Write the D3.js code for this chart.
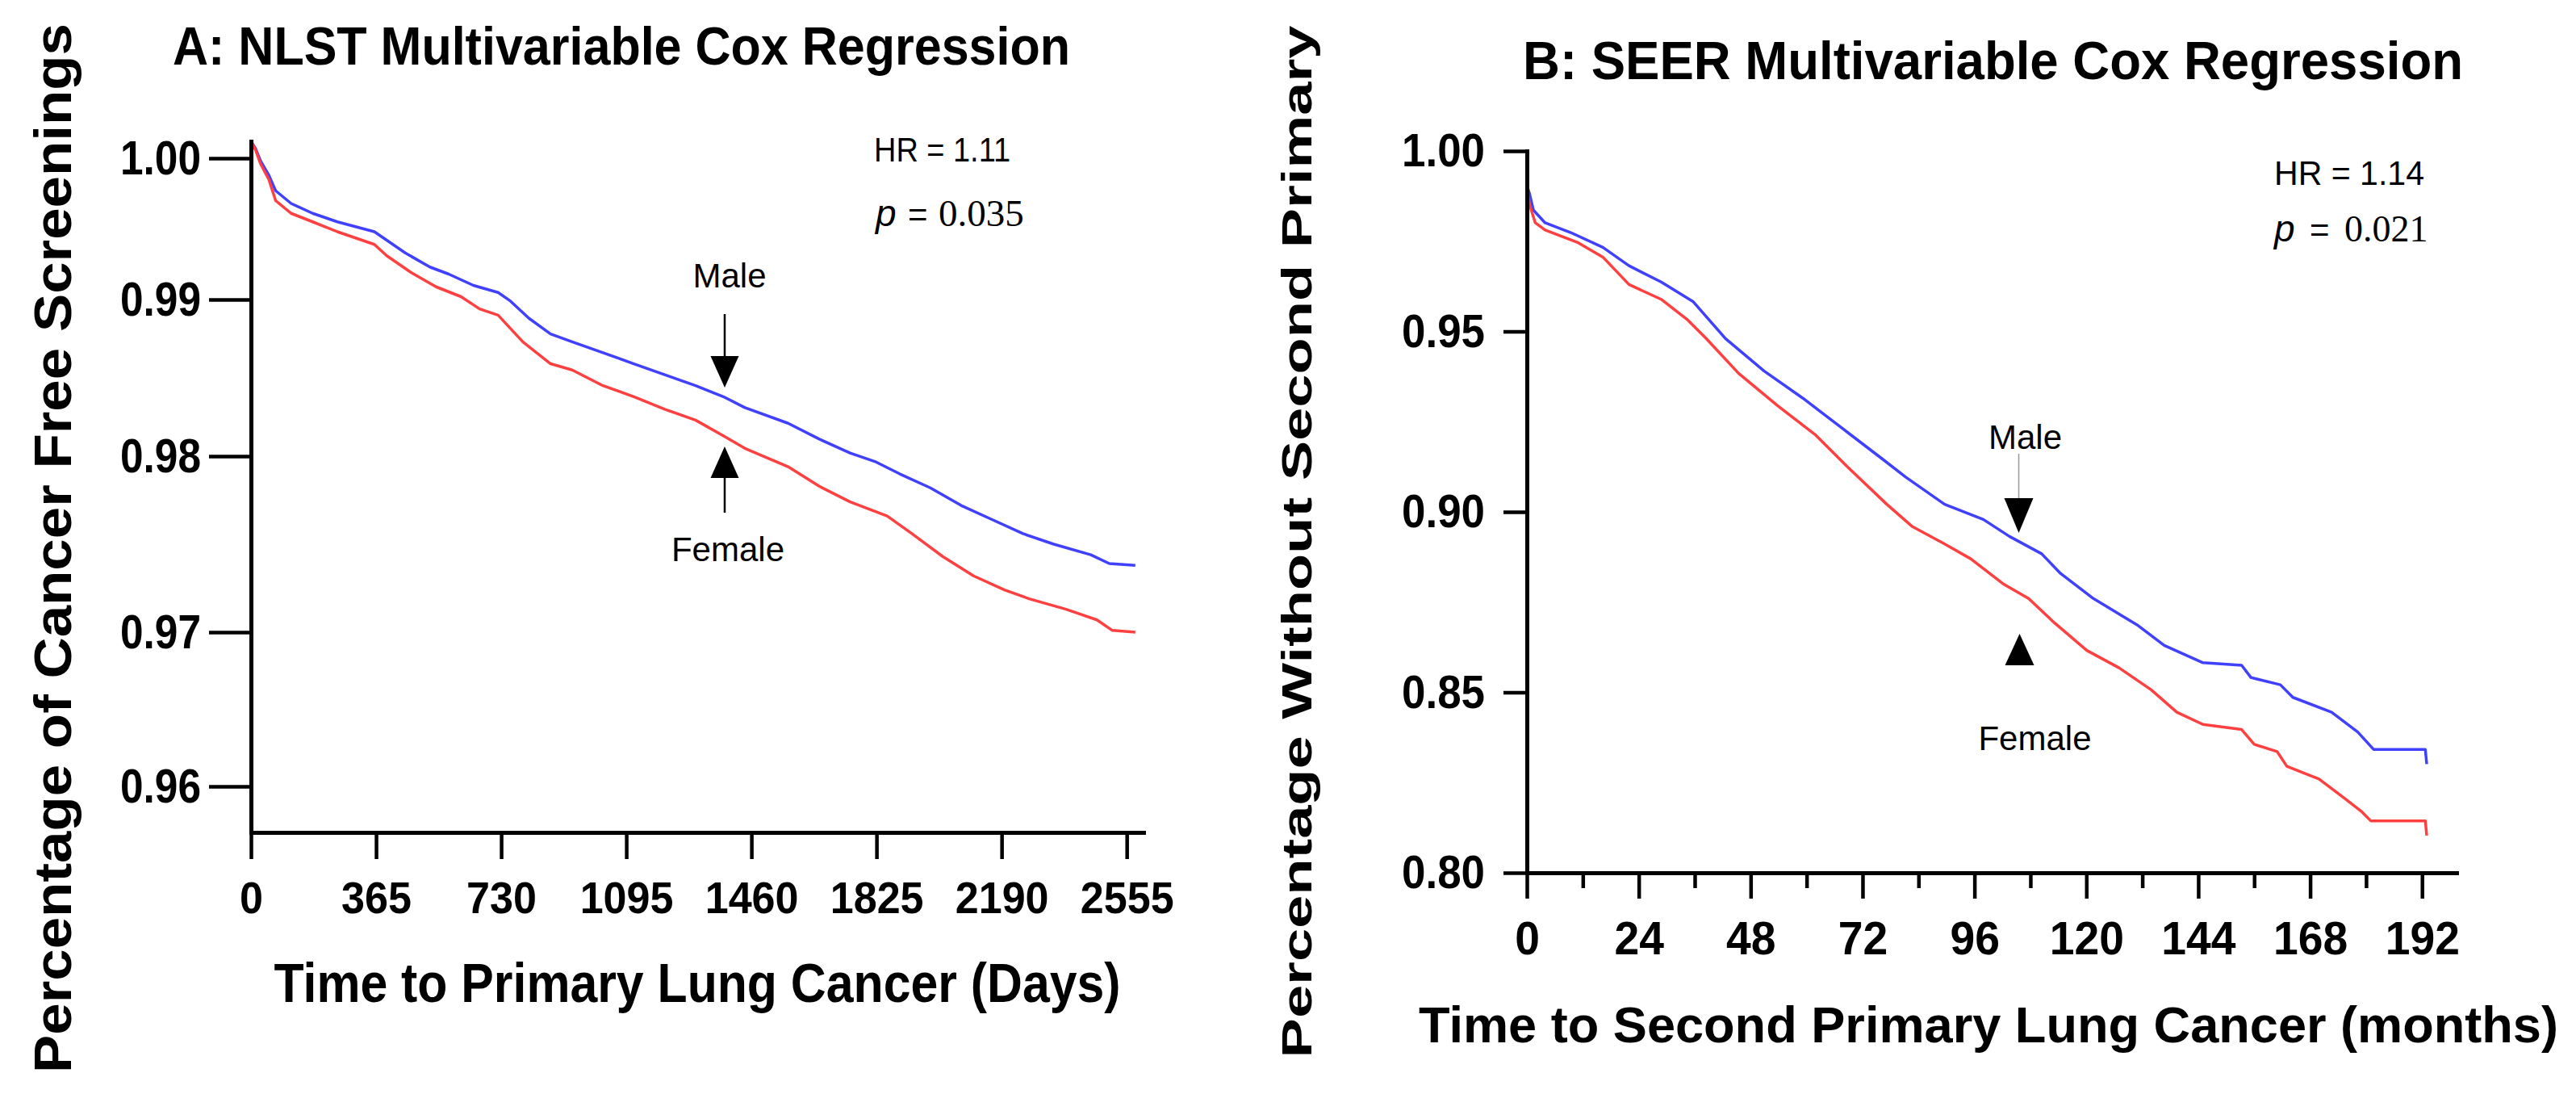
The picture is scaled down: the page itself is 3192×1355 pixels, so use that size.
<!DOCTYPE html>
<html>
<head>
<meta charset="utf-8">
<script src="https://cdn.jsdelivr.net/npm/d3@7"></script>
<style>
  body { margin: 0; background: #fff; }
  svg { display: block; }
  text { font-family: "Liberation Sans", Arial, sans-serif; fill: #000; }
</style>
</head>
<body>
<svg id="fig" width="3192" height="1355"></svg>
<script>
// ---- data ----
var nlstDayTicks = [0, 365, 730, 1095, 1460, 1825, 2190, 2555];
var nlstSurvTicks = [0.96, 0.97, 0.98, 0.99, 1.00];

// [days, survival]
var nlstMale = [
  [0,1.0012],[13,1.0007],[28,0.9998],[52,0.9988],[72,0.9977],[117,0.9968],[180,0.9961],
  [252,0.9955],[360,0.9948],[378,0.9945],[450,0.9933],[522,0.9923],[577,0.9918],
  [649,0.9910],[721,0.9905],[757,0.9899],[811,0.9888],[874,0.9878],[937,0.9873],
  [1027,0.9866],[1117,0.9859],[1207,0.9852],[1297,0.9845],[1378,0.9838],[1441,0.9831],
  [1567,0.9821],[1657,0.9811],[1748,0.9802],[1820,0.9797],[1892,0.9790],[1982,0.9782],
  [2072,0.9772],[2162,0.9764],[2252,0.9756],[2342,0.9750],[2450,0.9744],[2504,0.9739],
  [2580,0.9738]
];
var nlstFemale = [
  [0,1.0012],[13,1.0006],[28,0.9996],[52,0.9985],[72,0.9970],[117,0.9961],[180,0.9955],
  [252,0.9948],[360,0.9939],[396,0.9931],[468,0.9919],[540,0.9909],[613,0.9902],
  [667,0.9894],[721,0.9890],[793,0.9873],[874,0.9859],[937,0.9855],[1027,0.9845],
  [1117,0.9838],[1207,0.9830],[1297,0.9823],[1378,0.9813],[1441,0.9805],[1567,0.9794],
  [1657,0.9783],[1748,0.9774],[1856,0.9766],[1928,0.9756],[2018,0.9743],[2108,0.9732],
  [2198,0.9724],[2270,0.9719],[2378,0.9713],[2468,0.9707],[2513,0.9701],[2580,0.9700]
];

var seerMonthTicks = [0, 24, 48, 72, 96, 120, 144, 168, 192];
var seerMinorTicks = [12, 36, 60, 84, 108, 132, 156, 180];
var seerSurvTicks = [0.80, 0.85, 0.90, 0.95, 1.00];

// [months, survival]
var seerMale = [
  [0,0.9905],[0.6,0.9880],[1.4,0.9836],[3.9,0.9801],[9.4,0.9774],[16.3,0.9733],
  [21.9,0.9682],[28.8,0.9637],[35.7,0.9582],[42.6,0.9480],[50.9,0.9390],[59.2,0.9315],
  [68.2,0.9226],[75.8,0.9151],[81.3,0.9096],[89.6,0.9021],[97.9,0.8979],[103.5,0.8932],
  [110.4,0.8884],[114.5,0.8829],[121.5,0.8760],[131.1,0.8685],[136.7,0.8630],
  [145.0,0.8582],[153.3,0.8575],[155.3,0.8541],[161.6,0.8521],[164.3,0.8486],
  [172.6,0.8445],[178.2,0.8390],[181.6,0.8342],[192.7,0.8342],[193.0,0.8301]
];
var seerFemale = [
  [0,0.9895],[0.6,0.9850],[1.8,0.9801],[3.9,0.9781],[10.8,0.9747],[16.3,0.9706],
  [21.9,0.9630],[28.8,0.9589],[34.3,0.9534],[38.5,0.9480],[45.4,0.9384],[53.7,0.9295],
  [62.0,0.9212],[68.9,0.9123],[77.2,0.9021],[82.7,0.8959],[89.6,0.8911],[95.2,0.8870],
  [102.1,0.8801],[107.6,0.8760],[113.2,0.8692],[120.1,0.8616],[127.0,0.8568],
  [133.9,0.8507],[139.4,0.8445],[145.0,0.8411],[153.3,0.8397],[156.0,0.8356],
  [160.9,0.8336],[163.0,0.8295],[169.9,0.8260],[175.4,0.8206],[178.9,0.8171],
  [181.0,0.8144],[192.7,0.8144],[193.0,0.8103]
];

var maleColor = "#4040ff";
var femaleColor = "#ff4040";

var svg = d3.select("#fig");

function styleAxis(g, fontSize) {
  g.select(".domain").attr("stroke", "#000").attr("stroke-width", 5).attr("stroke-linecap", "square");
  g.selectAll(".tick line").attr("stroke", "#000").attr("stroke-width", 4.5);
  g.selectAll(".tick text")
    .style("font-family", '"Liberation Sans", Arial, sans-serif')
    .style("font-size", fontSize + "px")
    .style("font-weight", "bold")
    .attr("fill", "#000");
}

function drawCurve(g, data, x, y, color) {
  var line = d3.line()
    .x(function(d){ return x(d[0]); })
    .y(function(d){ return y(d[1]); });
  g.append("path")
    .datum(data)
    .attr("d", line)
    .attr("fill", "none")
    .attr("stroke", color)
    .attr("stroke-width", 3.5)
    .attr("stroke-linejoin", "round");
}

function triangle(g, cx, tipY, baseY, half) {
  g.append("path")
    .attr("d", "M" + (cx - half) + "," + baseY + "L" + (cx + half) + "," + baseY + "L" + cx + "," + tipY + "Z")
    .attr("fill", "#000");
}

// ================= Panel A =================
var xA = d3.scaleLinear().domain([0, 2604]).range([311, 1417]);
// the printed y axis is not evenly spaced, so follow the printed tick positions
var yA = d3.scaleLinear()
  .domain([0.957, 0.96, 0.97, 0.98, 0.99, 1.00, 1.0012])
  .range([1031, 974, 783, 565, 371, 196, 175]);

var gA = svg.append("g");

drawCurve(gA, nlstMale, xA, yA, maleColor);
drawCurve(gA, nlstFemale, xA, yA, femaleColor);

var axA_y = gA.append("g")
  .attr("transform", "translate(311,0)")
  .call(d3.axisLeft(yA).tickValues(nlstSurvTicks).tickFormat(d3.format(".2f"))
    .tickSize(52).tickPadding(10).tickSizeOuter(0));
styleAxis(axA_y, 60);
axA_y.selectAll(".tick text").attr("textLength", 100).attr("lengthAdjust", "spacingAndGlyphs");

var axA_x = gA.append("g")
  .attr("transform", "translate(0,1031)")
  .call(d3.axisBottom(xA).tickValues(nlstDayTicks).tickFormat(d3.format("d"))
    .tickSize(33).tickPadding(27).tickSizeOuter(0));
styleAxis(axA_x, 56);
axA_x.selectAll(".tick text").attr("transform", "scale(0.93,1)");

gA.append("text")
  .attr("x", 214).attr("y", 80)
  .attr("textLength", 1112).attr("lengthAdjust", "spacingAndGlyphs")
  .style("font-size", "66px").style("font-weight", "bold")
  .text("A: NLST Multivariable Cox Regression");

gA.append("text")
  .attr("transform", "translate(88,679) rotate(-90)")
  .attr("text-anchor", "middle")
  .attr("textLength", 1300).attr("lengthAdjust", "spacingAndGlyphs")
  .style("font-size", "64px").style("font-weight", "bold")
  .text("Percentage of Cancer Free Screenings");

gA.append("text")
  .attr("x", 864).attr("y", 1241)
  .attr("text-anchor", "middle")
  .attr("textLength", 1049).attr("lengthAdjust", "spacingAndGlyphs")
  .style("font-size", "68px").style("font-weight", "bold")
  .text("Time to Primary Lung Cancer (Days)");

// stats
gA.append("text")
  .attr("x", 1083).attr("y", 200)
  .attr("textLength", 169).attr("lengthAdjust", "spacingAndGlyphs")
  .style("font-size", "42px")
  .text("HR = 1.11");
var pA = gA.append("text").attr("y", 280);
pA.append("tspan").attr("x", 1085).style("font-size", "46px").style("font-style", "italic").text("p");
pA.append("tspan").attr("x", 1125).style("font-size", "42px").text("=");
pA.append("tspan").attr("x", 1163).style("font-size", "47px")
  .style("font-family", '"Liberation Serif", "Times New Roman", serif').text("0.035");

// arrows
var axArrowA = xA(1382);
gA.append("text").attr("x", axArrowA + 6).attr("y", 356).attr("text-anchor", "middle")
  .style("font-size", "42px").text("Male");
gA.append("line").attr("x1", axArrowA).attr("x2", axArrowA).attr("y1", 389).attr("y2", 442)
  .attr("stroke", "#000").attr("stroke-width", 2.5);
triangle(gA, axArrowA, 480, 441, 17.5);
triangle(gA, axArrowA, 553, 592, 17.5);
gA.append("line").attr("x1", axArrowA).attr("x2", axArrowA).attr("y1", 591).attr("y2", 635)
  .attr("stroke", "#000").attr("stroke-width", 2.5);
gA.append("text").attr("x", axArrowA + 4).attr("y", 695).attr("text-anchor", "middle")
  .style("font-size", "42px").text("Female");

// ================= Panel B =================
var xB = d3.scaleLinear().domain([0, 199.4]).range([1892, 3044]);
var yB = d3.scaleLinear().domain([0.80, 1.00]).range([1081, 187]);

var gB = svg.append("g");

drawCurve(gB, seerMale, xB, yB, maleColor);
drawCurve(gB, seerFemale, xB, yB, femaleColor);

var axB_minor = gB.append("g")
  .attr("transform", "translate(0,1081)")
  .call(d3.axisBottom(xB).tickValues(seerMinorTicks).tickFormat("").tickSize(19).tickSizeOuter(0));
axB_minor.select(".domain").remove();
axB_minor.selectAll(".tick line").attr("stroke", "#000").attr("stroke-width", 4.5);

var axB_x = gB.append("g")
  .attr("transform", "translate(0,1081)")
  .call(d3.axisBottom(xB).tickValues(seerMonthTicks).tickFormat(d3.format("d"))
    .tickSize(32).tickPadding(29).tickSizeOuter(0));
styleAxis(axB_x, 57);
axB_x.selectAll(".tick text").attr("transform", "scale(0.97,1)");

var axB_y = gB.append("g")
  .attr("transform", "translate(1892,0)")
  .call(d3.axisLeft(yB).tickValues(seerSurvTicks).tickFormat(d3.format(".2f"))
    .tickSize(29).tickPadding(23).tickSizeOuter(0));
styleAxis(axB_y, 58);
axB_y.selectAll(".tick text").attr("textLength", 103).attr("lengthAdjust", "spacingAndGlyphs");

gB.append("text")
  .attr("x", 1887).attr("y", 98)
  .attr("textLength", 1165).attr("lengthAdjust", "spacingAndGlyphs")
  .style("font-size", "66px").style("font-weight", "bold")
  .text("B: SEER Multivariable Cox Regression");

gB.append("text")
  .attr("transform", "translate(1625,671) rotate(-90)")
  .attr("text-anchor", "middle")
  .attr("textLength", 1279).attr("lengthAdjust", "spacingAndGlyphs")
  .style("font-size", "52px").style("font-weight", "bold")
  .text("Percentage Without Second Primary");

gB.append("text")
  .attr("x", 2464).attr("y", 1291)
  .attr("text-anchor", "middle")
  .attr("textLength", 1412).attr("lengthAdjust", "spacingAndGlyphs")
  .style("font-size", "63px").style("font-weight", "bold")
  .text("Time to Second Primary Lung Cancer (months)");

gB.append("text")
  .attr("x", 2818).attr("y", 229)
  .attr("textLength", 186).attr("lengthAdjust", "spacingAndGlyphs")
  .style("font-size", "42px")
  .text("HR = 1.14");
var pB = gB.append("text").attr("y", 299);
pB.append("tspan").attr("x", 2818).style("font-size", "46px").style("font-style", "italic").text("p");
pB.append("tspan").attr("x", 2862).style("font-size", "42px").text("=");
pB.append("tspan").attr("x", 2905).style("font-size", "46px")
  .style("font-family", '"Liberation Serif", "Times New Roman", serif').text("0.021");

var axArrowB = xB(105.5);
gB.append("text").attr("x", axArrowB + 8).attr("y", 556).attr("text-anchor", "middle")
  .style("font-size", "42px").text("Male");
gB.append("line").attr("x1", axArrowB).attr("x2", axArrowB).attr("y1", 562).attr("y2", 618)
  .attr("stroke", "#999").attr("stroke-width", 1.5);
triangle(gB, axArrowB, 660, 617, 18);
triangle(gB, axArrowB + 1, 785, 824, 18);
gB.append("text").attr("x", axArrowB + 20).attr("y", 929).attr("text-anchor", "middle")
  .style("font-size", "42px").text("Female");
</script>
</body>
</html>
